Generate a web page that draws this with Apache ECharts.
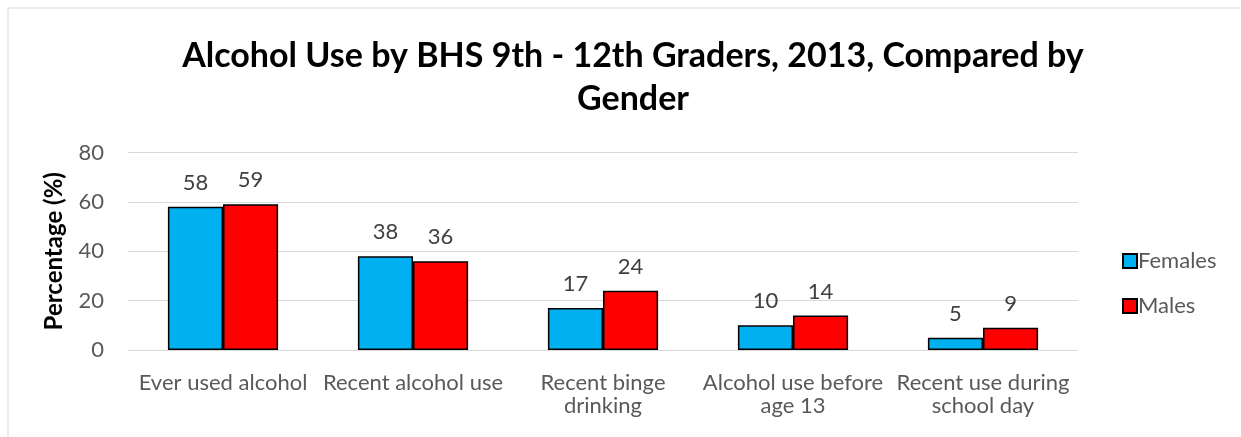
<!DOCTYPE html>
<html>
<head>
<meta charset="utf-8">
<script src="https://cdn.jsdelivr.net/npm/echarts@6/dist/echarts.min.js"></script>
<style>
  html, body { margin: 0; padding: 0; background: #fff; }
  #chart { width: 1241px; height: 437px; }
</style>
</head>
<body>
<div id="chart"></div>
<script>
const categories = ['Ever used alcohol', 'Recent alcohol use', 'Recent binge\ndrinking', 'Alcohol use before\nage 13', 'Recent use during\nschool day'];
const females = [58, 38, 17, 10, 5];
const males = [59, 36, 24, 14, 9];
const yTicks = [0, 20, 40, 60, 80];

const font = 'Lato, "Open Sans", sans-serif';

const chart = echarts.init(document.getElementById('chart'));

function barSeries(name, data, color) {
  return {
    name: name,
    type: 'bar',
    data: data,
    barGap: '0%',
    barCategoryGap: '42%',
    itemStyle: { color: color, borderColor: '#000', borderWidth: 1.5 },
    label: {
      show: true,
      position: 'top',
      distance: 13,
      color: '#404040',
      fontFamily: font,
      fontSize: 22
    }
  };
}

chart.setOption({
  animation: false,
  graphic: [{
    type: 'rect',
    shape: { x: 8, y: 8, width: 1300, height: 500 },
    style: { fill: 'none', stroke: '#d9d9d9', lineWidth: 1 },
    silent: true
  }],
  title: {
    text: 'Alcohol Use by BHS 9th - 12th Graders, 2013, Compared by\nGender',
    left: 628,
    textAlign: 'center',
    top: 30,
    textStyle: {
      fontFamily: font,
      fontSize: 34,
      fontWeight: 'bold',
      color: '#000',
      lineHeight: 43
    }
  },
  legend: {
    orient: 'vertical',
    left: 1117,
    top: 243,
    itemWidth: 14,
    itemHeight: 14,
    itemGap: 19,
    icon: 'rect',
    textStyle: { fontFamily: font, fontSize: 22, lineHeight: 26, color: '#595959', padding: [0, 0, 0, -4] },
    data: ['Females', 'Males']
  },
  grid: { left: 128, right: 163, top: 152.5, bottom: 87 },
  xAxis: {
    type: 'category',
    data: categories,
    axisLine: { show: false },
    axisTick: { show: false },
    axisLabel: {
      interval: 0,
      margin: 21,
      color: '#595959',
      fontFamily: font,
      fontSize: 22,
      lineHeight: 23
    }
  },
  yAxis: {
    type: 'value',
    min: yTicks[0],
    max: yTicks[yTicks.length - 1],
    interval: 20,
    name: 'Percentage (%)',
    nameLocation: 'middle',
    nameGap: 62,
    nameTextStyle: { fontFamily: font, fontSize: 24, fontWeight: 'bold', color: '#000' },
    axisLine: { show: false },
    axisTick: { show: false },
    axisLabel: { margin: 24, color: '#595959', fontFamily: font, fontSize: 22 },
    splitLine: { lineStyle: { color: '#d9d9d9', width: 1.2 } }
  },
  series: [
    barSeries('Females', females, '#00B0F0'),
    barSeries('Males', males, '#FF0000')
  ]
});
</script>
</body>
</html>
